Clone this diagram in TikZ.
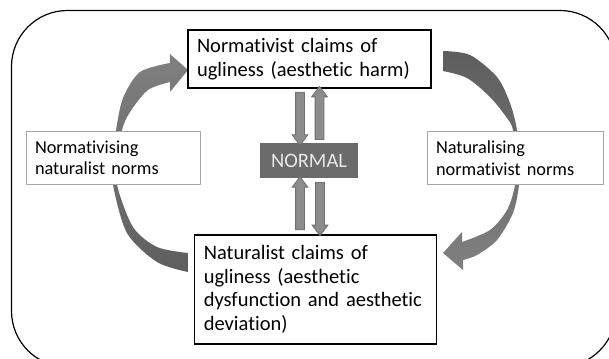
\documentclass[tikz,border=0pt]{standalone}
\usepackage{fontspec}
\setmainfont{Carlito}[Ligatures={NoCommon,NoContextual}]
\usetikzlibrary{shapes.arrows,calc}

\definecolor{barfill}{HTML}{8C8C8C}
\definecolor{barline}{HTML}{6F6F6F}
\definecolor{normfill}{HTML}{6B6B6B}
\definecolor{normtext}{HTML}{E8E8E8}
\definecolor{sideline}{HTML}{A6A6A6}
\definecolor{bendlight}{HTML}{808080}
\definecolor{benddark}{HTML}{5E5E5E}

\tikzset{
	claim/.style={draw=black, line width=1.2pt, fill=white, align=left, inner xsep=9pt, font=\fontsize{20.5}{23.5}\selectfont},
	side/.style={draw=sideline, line width=1pt, fill=white, align=left, inner xsep=9pt, minimum height=52pt, font=\fontsize{18.3}{21.5}\selectfont},
	vbar/.style={single arrow, draw=barline, fill=barfill, line width=0.8pt, inner xsep=0pt, inner ysep=4pt, single arrow head extend=3.5pt, single arrow tip angle=74, minimum height=53pt}
}

\begin{document}
\begin{tikzpicture}[x=1pt,y=-1pt]
	\clip (0,0) rectangle (609,358);
	\draw [line width=1.2pt, rounded corners=56pt] (11.5,10.5) rectangle (616,367);
	% bent arrows, the side boxes cover their middle
	\shade [top color=bendlight, bottom color=benddark] plot[smooth] coordinates {(188,272) (157,262) (127,233) (113,185) (112,158) (116,130) (123,98) (140,72) (170,63)} -- (170,54) -- (188,70) -- (170,92) -- plot[smooth] coordinates {(170,82) (148,90) (130,112) (122,130) (118,158) (117,185) (133,227) (157,247) (188,253)} -- cycle;
	\shade [top color=benddark, bottom color=bendlight] plot[smooth] coordinates {(443,51) (470,55) (497,77) (510,103) (517,130) (519,158) (519,185) (513,213) (497,240) (477,255) (463,260)} -- (463,270) -- (443,253) -- (462,232) -- plot[smooth] coordinates {(462,242) (490,230) (507,210) (515,185) (515,158) (513,130) (507,118) (490,97) (467,78) (443,71)} -- cycle;

	\node [claim, text width=225pt, minimum height=58pt] (harm) at (309.5,59) {Normativist claims of\\ugliness (aesthetic harm)};
	\node [claim, text width=224pt, minimum height=109pt] (dysf) at (315.8,289.5) {Naturalist claims of\\ugliness (aesthetic\\dysfunction and aesthetic\\deviation)};
	\node [fill=normfill, text=normtext, minimum width=98pt, minimum height=34.5pt, font=\fontsize{20.5}{24}\selectfont] (norm) at (309,160.5) {NORMAL};
	\node [side, text width=156pt] (normising) at (113,158) {Normativising\\naturalist norms};
	\node [side, text width=158pt] (natising) at (515,158) {Naturalising\\normativist norms};

	% up and down between the claims and NORMAL
	\node [vbar, rotate=-90] at ($(harm.south -| norm.north)!0.5!(norm.north)+(-9,0)$) {};
	\node [vbar, rotate=90] at ($(harm.south -| norm.north)!0.5!(norm.north)+(10.5,0)$) {};
	\node [vbar, rotate=90] at ($(norm.south)!0.5!(norm.south |- dysf.north)+(-9,0)$) {};
	\node [vbar, rotate=-90] at ($(norm.south)!0.5!(norm.south |- dysf.north)+(11,0)$) {};
\end{tikzpicture}
\end{document}
